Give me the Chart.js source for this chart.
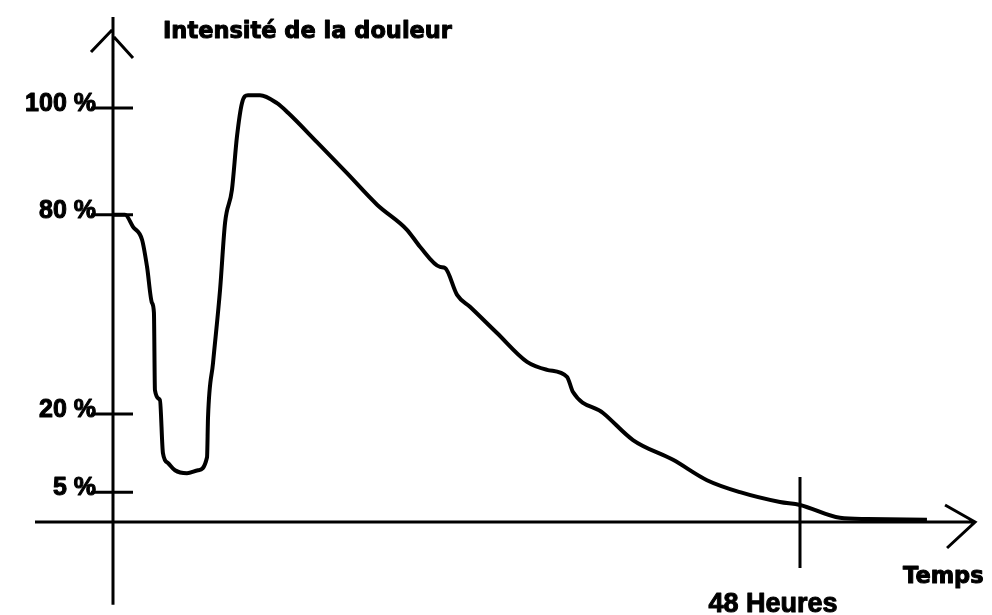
<!DOCTYPE html>
<html lang="fr">
<head>
<meta charset="utf-8">
<title>Intensité de la douleur</title>
<script src="https://cdn.jsdelivr.net/npm/chart.js@4/dist/chart.umd.min.js"></script>
<style>
  html, body { margin: 0; padding: 0; background: #fff; }
  #wrap { position: relative; width: 992px; height: 615px; }
</style>
</head>
<body>
<div id="wrap"><canvas id="douleur"></canvas></div>
<script>
  // ===== Données =====
  // temps en heures, intensité en %
  const hours = [0, 0.84, 1.40, 2.03, 2.38, 2.72, 2.86, 2.93, 3.28, 3.49,
    3.84, 4.33, 5.17, 5.94, 6.57, 6.64, 6.99, 7.48, 7.83, 8.31,
    8.66, 9.01, 9.43, 10.27, 11.46, 12.23, 14.25, 16.35, 18.45, 20.54,
    21.45, 22.85, 23.2, 24.04, 24.94, 26.83, 28.93, 30.32, 31.72, 32.14,
    34.24, 36.33, 39.13, 41.50, 43.81, 46.60, 48, 50.79, 52.68, 56.87];
  const intensity = [80, 80, 76.4, 72.5, 64.3, 53.5, 50.5, 27.2, 24.2, 12.5,
    10.6, 9.2, 8.65, 9.2, 11.7, 19.4, 35.4, 57.4, 77.6, 84.7,
    94.6, 100.9, 102.4, 102.4, 100.9, 99.1, 93.6, 87.8, 81.9, 75.5,
    70.4, 64.3, 64.0, 55.9, 52.3, 44.4, 35.7, 33.3, 31.2, 26.6,
    20.3, 15.0, 11.2, 7.3, 5.0, 3.35, 2.85, 0.7, 0.5, 0.4];

  const yTicks = [5, 20, 80, 100];
  const yTickLabels = ['5 %', '20 %', '80 %', '100 %'];
  const xMarks = [48];
  const xMarkLabels = ['48 Heures'];
  const yTitle = 'Intensité de la douleur';
  const xTitle = 'Temps';

  // axe vertical dessiné à la main : les graduations ne sont pas régulières
  const PCT_STOPS = [0, 5, 20, 80, 100];
  const LEVEL_STOPS = [0, 7.2, 26.1, 74.2, 100];

  function pctToLevel(v){
    const n = PCT_STOPS.length;
    let i = 0;
    if (v >= PCT_STOPS[n-1]) i = n - 2;
    else while (i < n - 2 && v > PCT_STOPS[i+1]) i++;
    const p0 = PCT_STOPS[i], p1 = PCT_STOPS[i+1];
    const l0 = LEVEL_STOPS[i], l1 = LEVEL_STOPS[i+1];
    return l0 + (v - p0) * (l1 - l0) / (p1 - p0);
  }

  class PainScale extends Chart.LinearScale {
    getPixelForValue(v){ return super.getPixelForValue(pctToLevel(v)); }
    getPixelForLevel(l){ return super.getPixelForValue(l); }
  }
  PainScale.id = 'pain';
  PainScale.defaults = Chart.LinearScale.defaults;
  Chart.register(PainScale);

  const TICK_FONT = 'bold 25px "Liberation Sans", Arial, sans-serif';
  const TITLE_FONT = 'bold 22.5px "DejaVu Sans", sans-serif';
  const MARK_FONT = 'bold 27px "Liberation Sans", Arial, sans-serif';

  // texte bien gras (remplissage + contour fin)
  function heavyText(ctx, txt, x, y){
    ctx.fillText(txt, x, y);
    ctx.strokeText(txt, x, y);
  }

  // ===== Axes façon croquis (flèches, graduations, textes) =====
  const sketchAxes = {
    id: 'sketchAxes',
    beforeDatasetsDraw(chart){
      const { ctx } = chart;
      const xs = chart.scales.x, ys = chart.scales.y;
      const ox = xs.getPixelForValue(0);
      const oy = ys.getPixelForValue(0);
      const yTop = ys.getPixelForLevel(122);
      const yBot = ys.getPixelForLevel(-20);
      const xLeft = xs.getPixelForValue(-5.45);
      const xRight = xs.getPixelForValue(60.23);

      ctx.save();
      ctx.strokeStyle = '#000';
      ctx.lineWidth = 3;
      ctx.lineCap = 'butt';

      ctx.beginPath();
      // axe vertical + flèche
      ctx.moveTo(ox, yBot); ctx.lineTo(ox, yTop);
      ctx.moveTo(ox - 22, yTop + 35); ctx.lineTo(ox - 1, yTop + 13);
      ctx.moveTo(ox + 1, yTop + 20); ctx.lineTo(ox + 20, yTop + 41);
      // axe horizontal + flèche
      ctx.moveTo(xLeft, oy); ctx.lineTo(xRight, oy);
      ctx.moveTo(xRight - 30, oy - 17); ctx.lineTo(xRight, oy);
      ctx.lineTo(xRight - 28, oy + 26);
      ctx.stroke();

      // graduations de l'axe vertical
      ctx.beginPath();
      yTicks.forEach(t => {
        const py = ys.getPixelForValue(t);
        ctx.moveTo(ox - 22, py); ctx.lineTo(ox + 20, py);
      });
      // repère 48 h
      xMarks.forEach(h => {
        const px = xs.getPixelForValue(h);
        ctx.moveTo(px, oy - 45); ctx.lineTo(px, oy + 46);
      });
      ctx.stroke();

      ctx.fillStyle = '#000';
      ctx.lineWidth = 1;
      ctx.lineJoin = 'round';
      ctx.font = TICK_FONT;
      ctx.textAlign = 'right';
      ctx.textBaseline = 'alphabetic';
      yTicks.forEach((t, i) => {
        heavyText(ctx, yTickLabels[i], ox - 17, ys.getPixelForValue(t) + 3);
      });

      ctx.font = MARK_FONT;
      ctx.textAlign = 'center';
      xMarks.forEach((h, i) => {
        heavyText(ctx, xMarkLabels[i], xs.getPixelForValue(h) - 27, oy + 90);
      });

      ctx.font = TITLE_FONT;
      ctx.textAlign = 'left';
      heavyText(ctx, yTitle, ox + 50, yTop + 21);
      heavyText(ctx, xTitle, xRight - 72, oy + 61);
      ctx.restore();
    }
  };

  const points = hours.map((h, i) => ({ x: h, y: intensity[i] }));

  new Chart(document.getElementById('douleur'), {
    type: 'line',
    data: {
      datasets: [{
        label: yTitle,
        data: points,
        borderColor: '#000',
        borderWidth: 4,
        pointRadius: 0,
        cubicInterpolationMode: 'monotone',
        fill: false
      }]
    },
    options: {
      responsive: true,
      maintainAspectRatio: false,
      animation: false,
      layout: { padding: 0 },
      plugins: { legend: { display: false }, tooltip: { enabled: false } },
      scales: {
        x: { type: 'linear', min: -7.895, max: 61.415, display: false },
        y: { type: 'pain', min: -22.46, max: 126.09, display: false }
      }
    },
    plugins: [sketchAxes]
  });
</script>
</body>
</html>
